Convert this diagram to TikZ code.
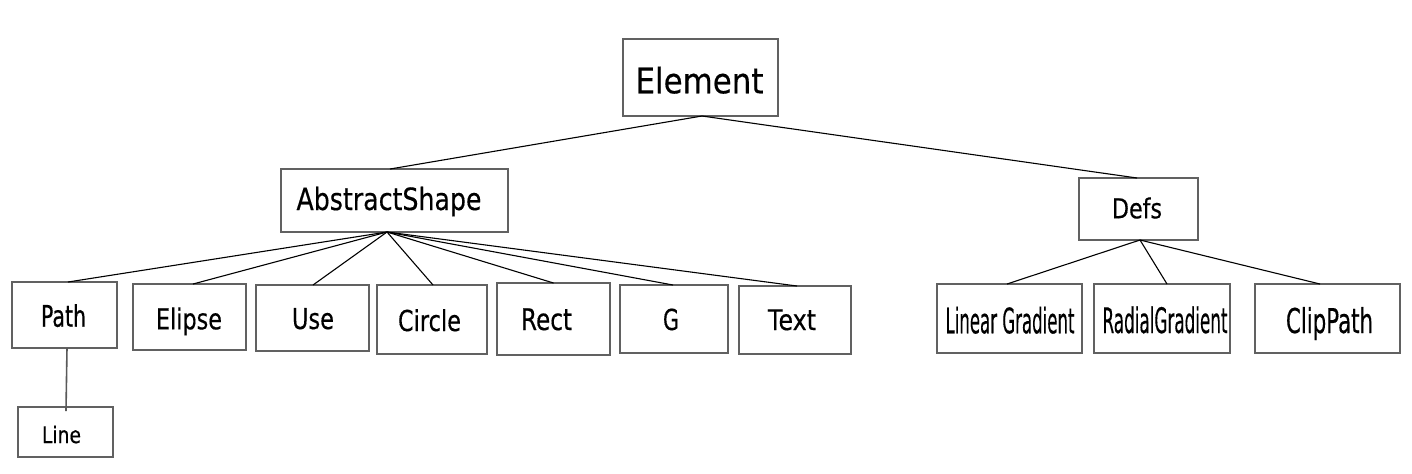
\documentclass[tikz,border=0pt]{standalone}
\usepackage{fontspec}
\setmainfont{DejaVu Sans}
\newfontfamily\lblfont{DejaVu Sans}[FakeBold=0.4]
\usetikzlibrary{calc}
\newdimen\px \px=0.5pt
% #1 width, #2 height, #3 twice the horizontal shift, #4 text
\newcommand\lbl[4]{\makebox[0pt]{\hspace*{#3}\resizebox{#1}{#2}{\lblfont #4}}}
\tikzset{
  box/.style={draw=black!62, line width=1.1\px, inner sep=0pt, outer sep=0pt, fill=white},
  conn/.style={draw=black, line width=1.1\px},
}
\begin{document}
\begin{tikzpicture}[x=0.5pt,y=-0.5pt]
\useasboundingbox[fill=white] (0,0) rectangle (1412,473);

% root
\node[box, minimum width=155\px, minimum height=77\px, text height=54.3\px, text depth=22.7\px] (el) at (700.5,77.5) {\lbl{128\px}{26.7\px}{-2\px}{Element}};

% second level
\node[box, minimum width=227\px, minimum height=63\px, text height=41\px, text depth=22\px] (as) at (394.5,200.5) {\lbl{185\px}{23.3\px}{-11\px}{AbstractShape}};
\node[box, minimum width=119\px, minimum height=62\px, text height=40.3\px, text depth=21.7\px] (defs) at (1138.5,209) {\lbl{50\px}{20.9\px}{-3\px}{Defs}};

% third level, shapes
\node[box, minimum width=105\px, minimum height=66\px, text height=44.7\px, text depth=21.3\px] (path) at (64.5,315) {\lbl{45\px}{22.6\px}{-2\px}{Path}};
\node[box, minimum width=113\px, minimum height=66\px, text height=45.3\px, text depth=20.7\px] (elipse) at (189.5,317) {\lbl{66\px}{21.9\px}{-1\px}{Elipse}};
\node[box, minimum width=113\px, minimum height=66\px, text height=44\px, text depth=22\px] (use) at (312.5,318) {\lbl{42\px}{21\px}{1\px}{Use}};
\node[box, minimum width=110\px, minimum height=69\px, text height=46\px, text depth=23\px] (circle) at (432,319.5) {\lbl{63\px}{21.9\px}{-5\px}{Circle}};
\node[box, minimum width=113\px, minimum height=72\px, text height=47\px, text depth=25\px] (rect) at (553.5,319) {\lbl{51\px}{21.7\px}{-14\px}{Rect}};
\node[box, minimum width=108\px, minimum height=68\px, text height=45\px, text depth=23\px] (g) at (674,319) {\lbl{16\px}{21.5\px}{-6\px}{G}};
\node[box, minimum width=112\px, minimum height=68\px, text height=44\px, text depth=24\px] (text) at (795,320) {\lbl{48\px}{20.7\px}{-6\px}{Text}};

% fourth level
\node[box, minimum width=95\px, minimum height=50\px, text height=36\px, text depth=14\px] (line) at (65.5,432) {\lbl{39\px}{17.4\px}{-8\px}{Line}};

% third level, defs
\node[box, minimum width=145\px, minimum height=69\px, text height=49.3\px, text depth=19.7\px] (lin) at (1009.5,318.5) {\lbl{129\px}{26.7\px}{1\px}{Linear Gradient}};
\node[box, minimum width=136\px, minimum height=69\px, text height=49\px, text depth=20\px] (rad) at (1162,318.5) {\lbl{125\px}{26.7\px}{6\px}{RadialGradient}};
\node[box, minimum width=145\px, minimum height=69\px, text height=49\px, text depth=20\px] (clip) at (1327.5,318.5) {\lbl{87\px}{26\px}{4\px}{ClipPath}};

% connectors
\draw[conn] ($(el.south)+(1.5,0)$) -- ($(as.north)+(-4.5,0)$);
\draw[conn] ($(el.south)+(1.5,0)$) -- ($(defs.north)+(-1.5,0)$);

\draw[conn] ($(as.south)+(-7.5,0)$) -- ($(path.north)+(3.5,0)$);
\draw[conn] ($(as.south)+(-7.5,0)$) -- ($(elipse.north)+(3.5,0)$);
\draw[conn] ($(as.south)+(-7.5,0)$) -- ($(use.north)+(0.5,0)$);
\draw[conn] ($(as.south)+(-7.5,0)$) -- ($(circle.north)+(1,0)$);
\draw[conn] ($(as.south)+(-7.5,0)$) -- ($(rect.north)+(0,0)$);
\draw[conn] ($(as.south)+(-7.5,0)$) -- ($(g.north)+(-1,0)$);
\draw[conn] ($(as.south)+(-7.5,0)$) -- ($(text.north)+(2,0)$);

\draw[conn, draw=black!65, line width=1.6\px] ($(path.south)+(2.5,0)$) -- ($(line.north)+(0.5,4)$);

\draw[conn] ($(defs.south)+(1.5,0)$) -- ($(lin.north)+(-2.5,0)$);
\draw[conn] ($(defs.south)+(1.5,0)$) -- ($(rad.north)+(5,0)$);
\draw[conn] ($(defs.south)+(1.5,0)$) -- ($(clip.north)+(-7.5,0)$);
\end{tikzpicture}
\end{document}
